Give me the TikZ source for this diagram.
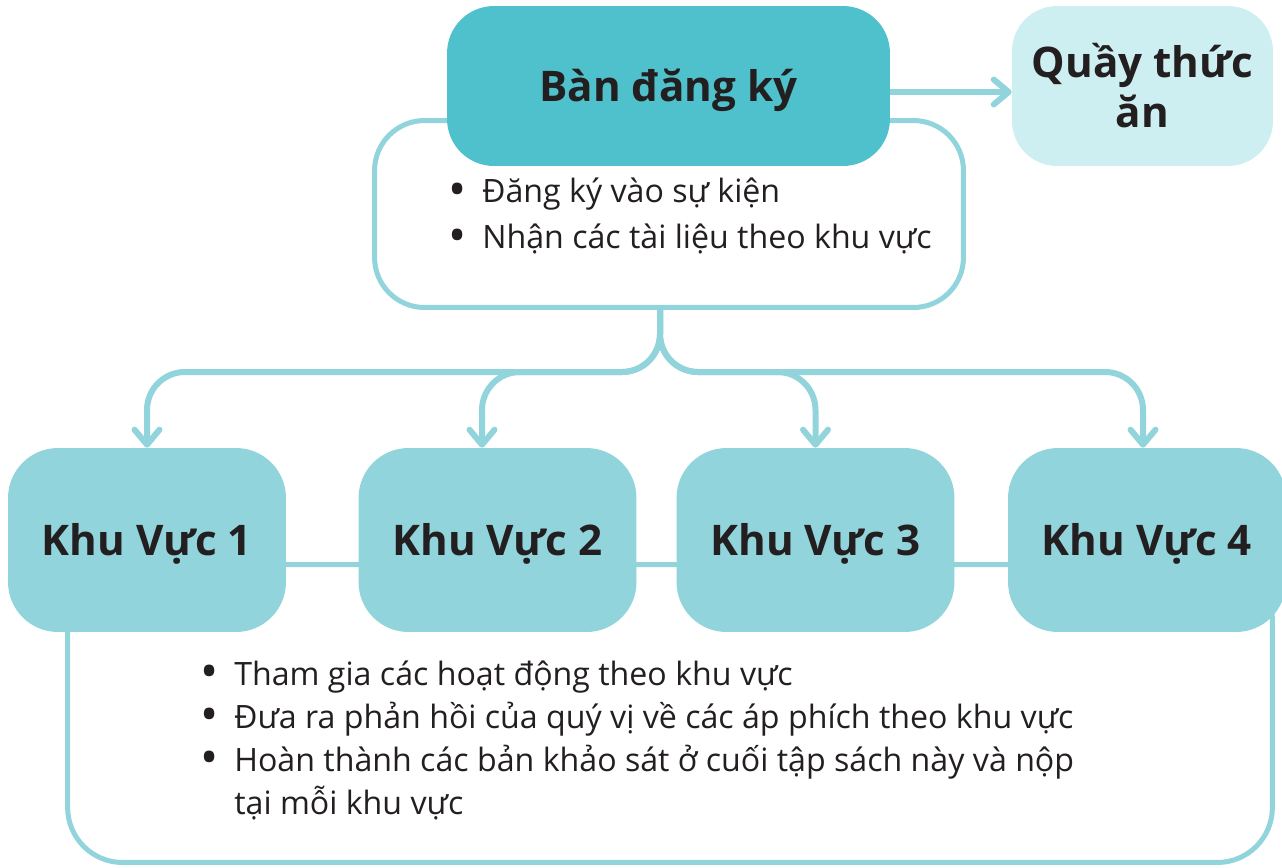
\documentclass[tikz,border=0pt]{standalone}
\usepackage{fontspec}
\setmainfont{Open Sans}
\usepackage{tikz}
\usetikzlibrary{arrows.meta}
\usetikzlibrary{positioning}
\definecolor{deskteal}{HTML}{4FC1CC}
\definecolor{zoneblue}{HTML}{92D4DC}
\definecolor{foodpale}{HTML}{CDEFF2}
\definecolor{ink}{HTML}{231F20}
\newcommand \itm {\makebox[0.68cm][l]{\smash{\raisebox{-0.07cm}{\scalebox{1.5}{\textbullet}}}}}
\tikzstyle{desk}=[rectangle,rounded corners=0.94cm,fill=deskteal,text=ink,font=\bfseries\fontsize{24}{28.5}\selectfont,text height=17.1pt,text depth=0pt,minimum width=8.86cm,minimum height=3.2cm]
\tikzstyle{food}=[rectangle,rounded corners=0.9cm,fill=foodpale,text=ink,align=center,font=\bfseries\fontsize{24}{28.5}\selectfont,minimum width=5.22cm,minimum height=3.2cm]
\tikzstyle{zone}=[rectangle,rounded corners=1cm,fill=zoneblue,text=ink,font=\bfseries\fontsize{24}{28.5}\selectfont,text height=17.1pt,text depth=0pt,minimum width=5.56cm,minimum height=3.68cm]
\tikzstyle{panel}=[rectangle,rounded corners=1cm,draw=zoneblue,fill=white,line width=0.1cm]
\tikzstyle{notes}=[text=ink,align=left,inner sep=0mm,anchor=west]
\tikzstyle{link}=[draw=zoneblue,line width=0.12cm,rounded corners=0.76cm,-{Straight Barb[round,length=0.3cm,width=0.5cm]}]

\begin{document}
\begin{tikzpicture}[x=0.02cm,y=-0.02cm]
        \useasboundingbox (0,0) rectangle (1282,867);
        % frames behind the boxes
        \node[panel,minimum width=11.78cm,minimum height=3.74cm] at (669,214) (deskpanel) {};
        \node[panel,rounded corners=1.1cm,minimum width=24.1cm,minimum height=5.96cm] at (670,713.5) (zonepanel) {};
        \node[desk] at (668.5,86) (desk) {Bàn đăng ký};
        \node[food] at (1142.5,86) (food) {Quầy thức\\ăn};
        \node[zone] at (147,540) (zone1) {Khu Vực 1};
        \node[zone] at (497.5,540) (zone2) {Khu Vực 2};
        \node[zone] at (815.5,540) (zone3) {Khu Vực 3};
        \node[zone] at (1147,540) (zone4) {Khu Vực 4};
        \node[notes,font=\fontsize{18.3}{26.2}\selectfont] at (448,216) (desknotes)
          {\itm Đăng ký vào sự kiện\\\itm Nhận các tài liệu theo khu vực};
        \node[notes,font=\fontsize{18.3}{24.5}\selectfont] at (200,740) (zonenotes)
          {\itm Tham gia các hoạt động theo khu vực\\
           \itm Đưa ra phản hồi của quý vị về các áp phích theo khu vực\\
           \itm Hoàn thành các bản khảo sát ở cuối tập sách này và nộp\\
           \hspace*{0.68cm}tại mỗi khu vực};
        \coordinate (fork) at (660,372);
        \draw[link] ([yshift=-0.12cm]desk.east) -- ([yshift=-0.12cm]food.west);
        \foreach \z/\dx in {1/0,2/-0.31,3/0,4/-0.08}
          \draw[link] ([xshift=-0.18cm]deskpanel.south) -- (fork) -| ([xshift=\dx cm]zone\z.north);
      \end{tikzpicture}
\end{document}
